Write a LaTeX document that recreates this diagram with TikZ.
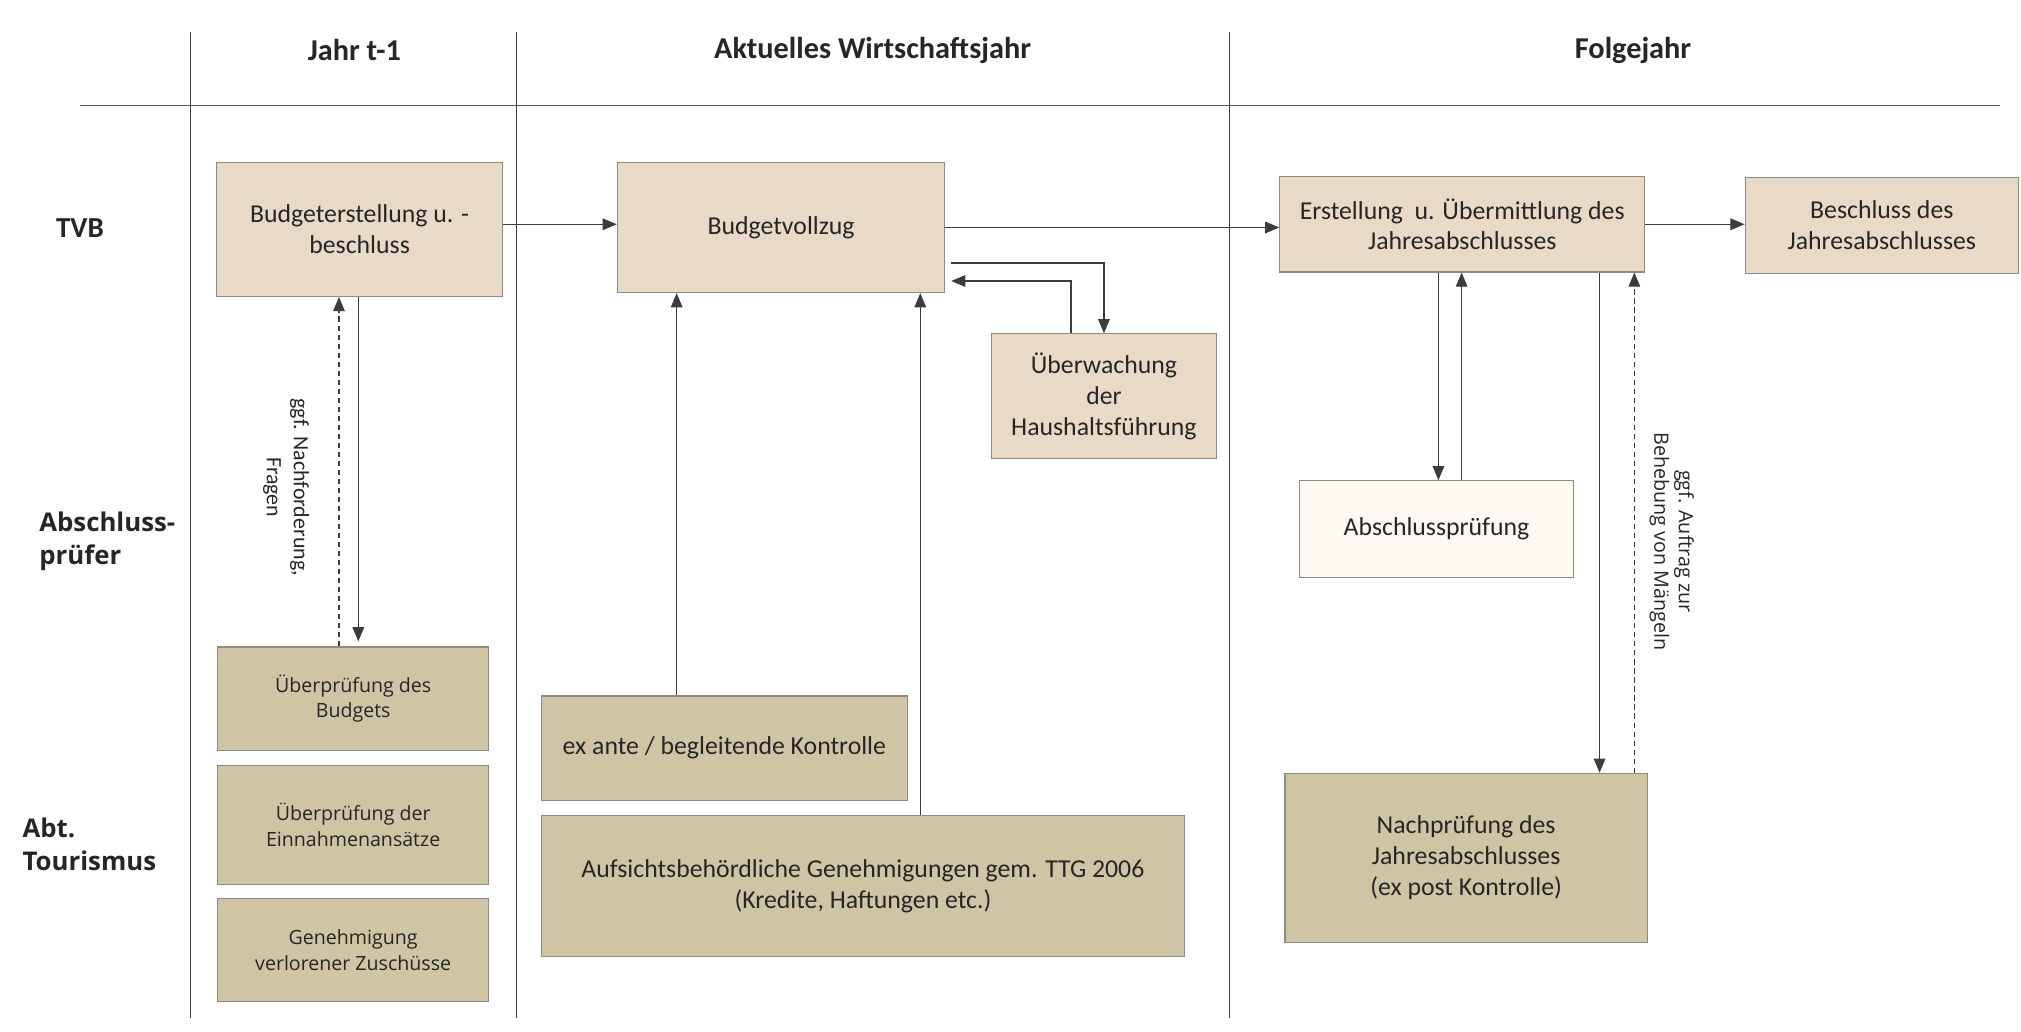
\documentclass[tikz,border=0pt]{standalone}
\usepackage{fontspec}
\setmainfont{Carlito}
\newfontfamily\widefont{Open Sans}
\usetikzlibrary{arrows.meta}
\definecolor{boxA}{HTML}{E8DAC6}
\definecolor{boxB}{HTML}{CFC4A3}
\definecolor{boxC}{HTML}{FDF9F3}
\definecolor{edgec}{HTML}{8E8A84}
\definecolor{lnc}{HTML}{3C3C3C}
\definecolor{txtc}{HTML}{262626}
\tikzset{
  basebox/.style={draw=edgec, line width=0.9pt, inner sep=0pt, align=center, text=txtc},
  tvbbox/.style={basebox, fill=boxA, font=\fontsize{20}{24}\selectfont},
  apbox/.style={basebox, fill=boxC, font=\fontsize{20}{24}\selectfont},
  tourbox/.style={basebox, fill=boxB, font=\fontsize{20}{24}\selectfont},
  tourwide/.style={basebox, fill=boxB, font=\widefont\fontsize{15.2}{20}\selectfont},
  header/.style={text=txtc, font=\bfseries\fontsize{23.5}{26}\selectfont},
  rowlab/.style={text=txtc, align=left, anchor=west, font=\widefont\bfseries\fontsize{20}{26}\selectfont},
  arr/.style={draw=lnc, line width=1pt, -{Triangle[length=11pt,width=9pt]}},
  dsh/.style={arr, dash pattern=on 4pt off 3pt},
  gridline/.style={draw=lnc, line width=0.9pt},
  vlab/.style={text=txtc, rotate=-90, align=center}
}
\begin{document}
\begin{tikzpicture}[x=1pt,y=-1pt]
\useasboundingbox[fill=white] (0,0) rectangle (1568,800);

% grid
\coordinate (g1t) at (148,25); \coordinate (g1b) at (148,790);
\coordinate (g2t) at (401,25); \coordinate (g2b) at (401,790);
\coordinate (g3t) at (954,25); \coordinate (g3b) at (954,790);
\coordinate (hl) at (62,82); \coordinate (hr) at (1552,82);
\draw[gridline] (g1t) -- (g1b);
\draw[gridline] (g2t) -- (g2b);
\draw[gridline] (g3t) -- (g3b);
\draw[gridline, draw=lnc!85] (hl) -- (hr);

% headers
\node[header] (h1) at (275,39) {Jahr t-1};
\node[header] (h2) at (677,39) {Aktuelles Wirtschaftsjahr};
\node[header] (h3) at (1267,39) {Folgejahr};

% row labels
\node[text=txtc, font=\bfseries\fontsize{22.5}{24}\selectfont] (rTVB) at (62,177) {TVB};
\node[rowlab] (rAP) at (27,420) {Abschluss-\\prüfer};
\node[rowlab] (rAT) at (14,655) {Abt.\\Tourismus};

% TVB row
\node[tvbbox, minimum width=222, minimum height=104] (budget) at (279,178) {Budgeterstellung u. -\\beschluss};
\node[tvbbox, minimum width=254, minimum height=101] (vollzug) at (606,176.5) {Budgetvollzug};
\node[tvbbox, minimum width=175, minimum height=97] (ueberw) at (856.5,307.5) {Überwachung\\der\\Haushaltsführung};
\node[tvbbox, minimum width=283, minimum height=74] (erst) at (1134.5,174) {Erstellung\ \ u. Übermittlung des\\Jahresabschlusses};
\node[tvbbox, minimum width=212, minimum height=74] (beschl) at (1460,175) {Beschluss des\\Jahresabschlusses};

% Abschlussprüfer row
\node[apbox, minimum width=213, minimum height=75] (abschl) at (1114.5,410.5) {Abschlussprüfung};

% Abt. Tourismus row
\node[tourwide, minimum width=210, minimum height=80] (pruefB) at (274,542) {Überprüfung des\\Budgets};
\node[tourwide, minimum width=210, minimum height=92] (pruefE) at (274,640) {Überprüfung der\\Einnahmenansätze};
\node[tourwide, minimum width=210, minimum height=80] (genehm) at (274,737) {Genehmigung\\verlorener Zuschüsse};
\node[tourbox, minimum width=284, minimum height=81] (exante) at (562,580.5) {ex ante / begleitende Kontrolle};
\node[tourbox, minimum width=499, minimum height=109] (aufs) at (669.5,687.5) {Aufsichtsbehördliche Genehmigungen gem. TTG 2006\\(Kredite, Haftungen etc.)};
\node[tourbox, minimum width=281, minimum height=131] (nachp) at (1137.5,665.5) {Nachprüfung des\\Jahresabschlusses\\(ex post Kontrolle)};

% helper x positions
\coordinate (x263) at (263,0);
\coordinate (x278) at (278,0);
\coordinate (x525) at (525,0);
\coordinate (x714) at (714,0);
\coordinate (x831) at (831,0);
\coordinate (x1116) at (1116,0);
\coordinate (x1134) at (1134,0);
\coordinate (x1241) at (1241,0);
\coordinate (x1268) at (1268,0);
\coordinate (y174) at (0,174);
\coordinate (v1) at (738,204);
\coordinate (v2) at (738,218);

% connectors
\draw[arr] (budget.east |- y174) -- (vollzug.west |- y174);
\draw[arr] (vollzug.east) -- (vollzug.east -| erst.west);
\draw[arr] (erst.east) -- (erst.east -| beschl.west);
\draw[arr] (v1) -| (ueberw.north);
\draw[arr] (ueberw.north -| x831) |- (v2);
\draw[arr] (exante.north -| x525) -- (vollzug.south -| x525);
\draw[arr] (aufs.north -| x714) -- (vollzug.south -| x714);
\draw[arr, shorten >=4pt] (budget.south -| x278) -- (pruefB.north -| x278);
\draw[dsh] (pruefB.north -| x263) -- (budget.south -| x263);
\draw[arr] (erst.south -| x1116) -- (abschl.north -| x1116);
\draw[arr] (abschl.north -| x1134) -- (erst.south -| x1134);
\draw[arr] (erst.south -| x1241) -- (nachp.north -| x1241);
\draw[dsh] (nachp.north -| x1268) -- (erst.south -| x1268);

% connector labels
\node[vlab, font=\fontsize{17}{21}\selectfont] (lab1) at (222,378) {ggf. Nachforderung,\\Fragen};
\node[vlab, font=\widefont\fontsize{15.3}{19}\selectfont] (lab2) at (1297,420) {ggf. Auftrag zur\\Behebung von Mängeln};
\end{tikzpicture}
\end{document}
